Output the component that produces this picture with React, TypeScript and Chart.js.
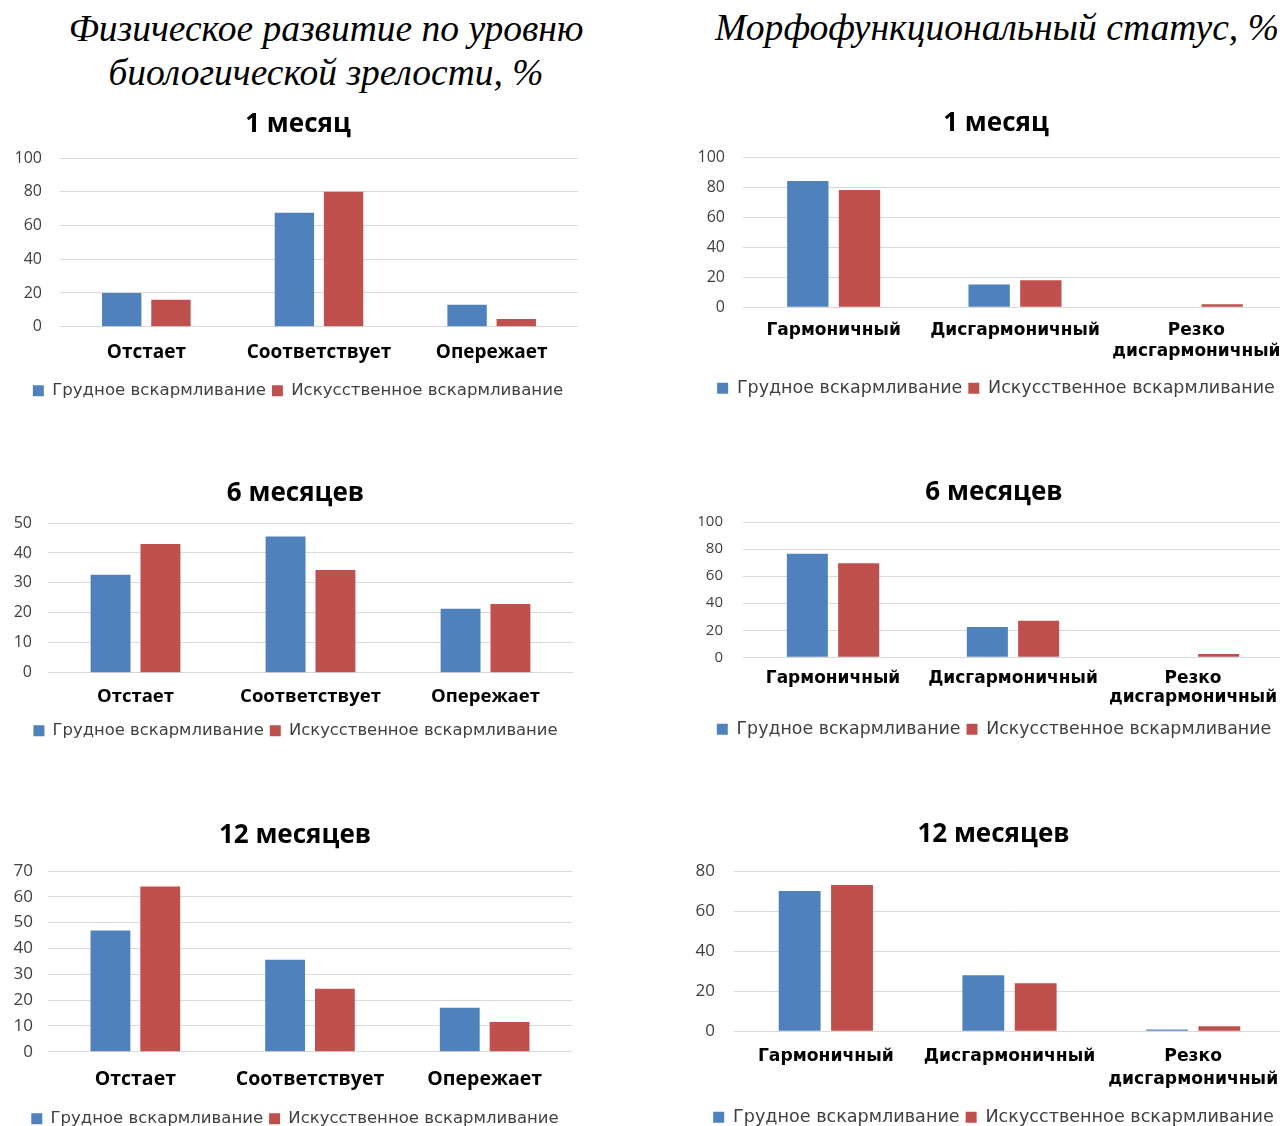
import React, { useEffect, useRef } from "react";
import { Chart, registerables } from "chart.js";

Chart.register(...registerables);

// ---------- data ----------
const seriesNames = ["Грудное вскармливание", "Искусственное вскармливание"];
const seriesColors = ["#4F81BD", "#C0504D"];

const leftHeader = ["Физическое развитие по уровню", "биологической зрелости, %"];
const rightHeader = "Морфофункциональный статус, %";

const periodTitles = ["1 месяц", "6 месяцев", "12 месяцев"];

const maturityCategories = ["Отстает", "Соответствует", "Опережает"];
const statusCategories = ["Гармоничный", "Дисгармоничный", ["Резко", "дисгармоничный"]];

const maturity1Breast = [20, 67.5, 13];
const maturity1Artificial = [16, 80, 4.5];
const maturity6Breast = [32.7, 45.5, 21.4];
const maturity6Artificial = [43, 34.3, 23];
const maturity12Breast = [47, 35.6, 17];
const maturity12Artificial = [64, 24.4, 11.5];

const status1Breast = [84, 15.2, 0];
const status1Artificial = [78, 18, 2];
const status6Breast = [76.5, 22.4, 0];
const status6Artificial = [69.6, 27, 2.4];
const status12Breast = [70, 28, 0.8];
const status12Artificial = [73, 24, 2.5];

const maturityAxisMax = [100, 50, 70];
const maturityAxisStep = [20, 10, 10];
const statusAxisMax = [100, 100, 80];
const statusAxisStep = [20, 20, 20];

// ---------- layout specs (absolute page coordinates) ----------
type Spec = {
  left: number; top: number; width: number; padLeft: number;
  plotLeft: number; plotRight: number; yLabelRight: number;
  titleCenter: number; plotTop: number; plotBottom: number;
  xLabelCenter: number; xLineHeight: number; legendCenter: number;
  titleSize: number; tickSize: number; xSize: number; xFamily: string;
  legendSize: number; legendFamily: string;
  title: string; categories: any[]; a: number[]; b: number[];
  yMax: number; yStep: number;
};

const SANS = "'Open Sans', 'DejaVu Sans', sans-serif";
const WIDE = "'DejaVu Sans', 'Open Sans', sans-serif";

const specs: Spec[] = [
  {
    left: 0, top: 100, width: 590, padLeft: 18, plotLeft: 60, plotRight: 578, yLabelRight: 42,
    titleCenter: 125, plotTop: 158, plotBottom: 327, xLabelCenter: 353, xLineHeight: 21, legendCenter: 391,
    titleSize: 26, tickSize: 16, xSize: 19, xFamily: SANS, legendSize: 16.6, legendFamily: WIDE,
    title: periodTitles[0], categories: maturityCategories, a: maturity1Breast, b: maturity1Artificial,
    yMax: maturityAxisMax[0], yStep: maturityAxisStep[0],
  },
  {
    left: 690, top: 100, width: 615, padLeft: 15, plotLeft: 743, plotRight: 1287, yLabelRight: 725,
    titleCenter: 124, plotTop: 157, plotBottom: 307, xLabelCenter: 330, xLineHeight: 21, legendCenter: 388,
    titleSize: 26, tickSize: 16, xSize: 17, xFamily: WIDE, legendSize: 17.5, legendFamily: WIDE,
    title: periodTitles[0], categories: statusCategories, a: status1Breast, b: status1Artificial,
    yMax: statusAxisMax[0], yStep: statusAxisStep[0],
  },
  {
    left: 0, top: 470, width: 590, padLeft: 18, plotLeft: 48, plotRight: 573, yLabelRight: 32,
    titleCenter: 494, plotTop: 523, plotBottom: 673, xLabelCenter: 697, xLineHeight: 21, legendCenter: 731,
    titleSize: 26, tickSize: 16, xSize: 18.5, xFamily: SANS, legendSize: 16.4, legendFamily: WIDE,
    title: periodTitles[1], categories: maturityCategories, a: maturity6Breast, b: maturity6Artificial,
    yMax: maturityAxisMax[1], yStep: maturityAxisStep[1],
  },
  {
    left: 690, top: 470, width: 615, padLeft: 15, plotLeft: 743, plotRight: 1283, yLabelRight: 723,
    titleCenter: 493, plotTop: 522, plotBottom: 657, xLabelCenter: 678, xLineHeight: 19, legendCenter: 729,
    titleSize: 26, tickSize: 15, xSize: 17, xFamily: WIDE, legendSize: 17.4, legendFamily: WIDE,
    title: periodTitles[1], categories: statusCategories, a: status6Breast, b: status6Artificial,
    yMax: statusAxisMax[1], yStep: statusAxisStep[1],
  },
  {
    left: 0, top: 810, width: 590, padLeft: 18, plotLeft: 48, plotRight: 572, yLabelRight: 33,
    titleCenter: 836, plotTop: 871, plotBottom: 1052, xLabelCenter: 1080, xLineHeight: 22, legendCenter: 1119,
    titleSize: 26, tickSize: 17, xSize: 19.5, xFamily: SANS, legendSize: 16.5, legendFamily: WIDE,
    title: periodTitles[2], categories: maturityCategories, a: maturity12Breast, b: maturity12Artificial,
    yMax: maturityAxisMax[2], yStep: maturityAxisStep[2],
  },
  {
    left: 690, top: 810, width: 615, padLeft: 12, plotLeft: 734, plotRight: 1285, yLabelRight: 715,
    titleCenter: 835, plotTop: 871, plotBottom: 1031, xLabelCenter: 1056, xLineHeight: 23, legendCenter: 1117,
    titleSize: 26, tickSize: 17, xSize: 17.2, xFamily: WIDE, legendSize: 17.6, legendFamily: WIDE,
    title: periodTitles[2], categories: statusCategories, a: status12Breast, b: status12Artificial,
    yMax: statusAxisMax[2], yStep: statusAxisStep[2],
  },
];

const LEGEND_PAD = 6;

// let tick labels extend past the scale box (they are positioned by the scale itself)
const unclipTicks = {
  id: "unclipTicks",
  beforeDraw(chart: any) {
    Object.keys(chart.scales).forEach((id) => {
      chart.scales[id]._computeLabelArea = () => undefined;
    });
  },
};

function BarPanel({ s }: { s: Spec }) {
  const ref = useRef<HTMLCanvasElement | null>(null);

  const titleLH = s.titleSize * 1.2;
  const titlePadTop = s.titleCenter - s.top - titleLH / 2;
  const titlePadBottom = s.plotTop - s.top - titlePadTop - titleLH;
  const yWidth = s.plotLeft - s.left - s.padLeft;
  const padRight = s.left + s.width - s.plotRight;
  const xPad = s.xLabelCenter - s.plotBottom - s.xLineHeight / 2;
  const legendTop = s.legendCenter - LEGEND_PAD - s.legendSize / 2;
  const xHeight = legendTop - s.plotBottom;
  const legendH = s.legendSize + LEGEND_PAD + 10;
  const height = Math.round(legendTop + legendH - s.top);

  useEffect(() => {
    if (!ref.current) return;
    const chart = new Chart(ref.current, {
      type: "bar",
      data: {
        labels: s.categories,
        datasets: [
          { label: seriesNames[0], data: s.a, backgroundColor: seriesColors[0], borderWidth: 0,
            categoryPercentage: 0.57, barPercentage: 0.8 },
          { label: seriesNames[1], data: s.b, backgroundColor: seriesColors[1], borderWidth: 0,
            categoryPercentage: 0.57, barPercentage: 0.8 },
        ],
      },
      options: {
        responsive: false,
        animation: false,
        devicePixelRatio: 1,
        events: [],
        layout: { padding: { left: s.padLeft, right: padRight, top: 0, bottom: 0 } },
        plugins: {
          tooltip: { enabled: false },
          title: {
            display: true,
            text: s.title,
            color: "#000000",
            font: { family: SANS, size: s.titleSize, weight: "bold", lineHeight: 1.2 },
            padding: { top: titlePadTop, bottom: titlePadBottom },
          },
          legend: {
            display: true,
            position: "bottom",
            labels: {
              color: "#404040",
              font: { family: s.legendFamily, size: s.legendSize },
              boxWidth: 11,
              boxHeight: 11,
              padding: LEGEND_PAD,
            },
          },
        },
        scales: {
          x: {
            grid: { display: false, drawTicks: false },
            border: { display: false },
            ticks: {
              color: "#000000",
              font: { family: s.xFamily, size: s.xSize, weight: "bold", lineHeight: s.xLineHeight / s.xSize },
              padding: xPad,
              maxRotation: 0,
              autoSkip: false,
            },
            afterFit: (scale: any) => { scale.height = xHeight; },
          },
          y: {
            min: 0,
            max: s.yMax,
            grid: { color: "#d9d9d9", lineWidth: 1, drawTicks: false },
            border: { display: false },
            ticks: {
              stepSize: s.yStep,
              color: "#404040",
              font: { family: SANS, size: s.tickSize },
              padding: s.plotLeft - s.yLabelRight,
            },
            afterFit: (scale: any) => { scale.width = yWidth; },
          },
        },
      },
      plugins: [unclipTicks],
    } as any);
    return () => chart.destroy();
  }, []);

  return (
    <canvas
      ref={ref}
      width={s.width}
      height={height}
      style={{ position: "absolute", left: s.left, top: s.top, width: s.width, height }}
    />
  );
}

export default function App() {
  const serif = "'Liberation Serif', 'Times New Roman', serif";
  return (
    <div
      style={{
        position: "absolute", left: 0, top: 0, width: 1280, height: 1126,
        overflow: "hidden", background: "#ffffff",
      }}
    >
      <div
        style={{
          position: "absolute", left: 0, top: 7, width: 652, textAlign: "center",
          fontFamily: serif, fontStyle: "italic", fontSize: 37.5, lineHeight: "44px", color: "#000",
        }}
      >
        <div>{leftHeader[0]}</div>
        <div>{leftHeader[1]}</div>
      </div>
      <div
        style={{
          position: "absolute", left: 697, top: 6, width: 600, textAlign: "center",
          fontFamily: serif, fontStyle: "italic", fontSize: 37.6, lineHeight: "44px", color: "#000",
          whiteSpace: "nowrap",
        }}
      >
        {rightHeader}
      </div>
      {specs.map((s, i) => (
        <BarPanel key={i} s={s} />
      ))}
    </div>
  );
}
